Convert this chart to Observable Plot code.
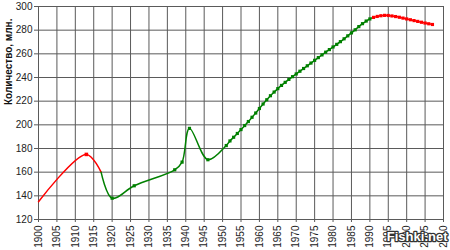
<!DOCTYPE html>
<html><head><meta charset="utf-8">
<script src="https://cdn.jsdelivr.net/npm/d3@7"></script>
<script src="https://cdn.jsdelivr.net/npm/@observablehq/plot@0.6"></script>
<style>body{margin:0;background:#fff;}</style>
</head><body><div id="chart"></div>
<script>
// Early period (red)
const redEarlyYears = [1900, 1913, 1917];
const redEarlyValues = [135, 175, 160];
// Soviet period (green)
const greenYears = [1917, 1920, 1926, 1937, 1939, 1941, 1946,
  1951, 1952, 1953, 1954, 1955, 1956, 1957, 1958, 1959, 1960,
  1961, 1962, 1963, 1964, 1965, 1966, 1967, 1968, 1969, 1970,
  1971, 1972, 1973, 1974, 1975, 1976, 1977, 1978, 1979, 1980,
  1981, 1982, 1983, 1984, 1985, 1986, 1987, 1988, 1989, 1990, 1991];
const greenValues = [160, 138, 148.5, 162, 168.5, 197, 170.5,
  182.5, 186.4, 189.5, 192.7, 196.0, 199.4, 202.8, 206.4, 210.0, 213.8,
  217.6, 221.2, 224.6, 227.7, 230.6, 233.3, 235.9, 238.4, 240.7, 243.0,
  245.3, 247.6, 249.9, 252.2, 254.5, 256.8, 259.1, 261.4, 263.6, 265.8,
  268.0, 270.3, 272.7, 275.2, 277.7, 280.3, 283.0, 285.5, 287.7, 289.5, 290.8];
// Post-Soviet period (red)
const redLateYears = [1991, 1992, 1993, 1994, 1995, 1996, 1997, 1998, 1999,
  2000, 2001, 2002, 2003, 2004, 2005, 2006, 2007];
const redLateValues = [290.8, 291.6, 292.2, 292.5, 292.4, 292.0, 291.5, 290.9, 290.2,
  289.5, 288.8, 288.1, 287.4, 286.7, 286.0, 285.4, 284.8];
// Years drawn without a marker
const noMarkerYears = [1900, 1917];
const greenNoMarker = [1917, 1991];

const xTicks = [1900,1905,1910,1915,1920,1925,1930,1935,1940,1945,1950,1955,
  1960,1965,1970,1975,1980,1985,1990,1995,2000,2005,2010];
const yTicks = [120,140,160,180,200,220,240,260,280,300];
const yLabel = "Количество, млн.";
const watermark = "Fishki.net";

const rows = (ys, vs) => ys.map((y, i) => ({year: y, value: vs[i]}));
const redEarly = rows(redEarlyYears, redEarlyValues);
const green = rows(greenYears, greenValues);
const redLate = rows(redLateYears, redLateValues);

const RED = "#ff0000", GREEN = "#008000", GRID = "#5a5a5a";

const chart = Plot.plot({
  width: 450, height: 250,
  marginLeft: 38, marginRight: 7, marginTop: 6, marginBottom: 31,
  style: {fontFamily: "'Liberation Sans', Arial, sans-serif", fontSize: "10px", color: "#222", background: "#fff"},
  x: {domain: [1900, 2010]},
  y: {domain: [120, 300]},
  marks: [
    Plot.gridX(xTicks, {stroke: GRID, strokeOpacity: 1}),
    Plot.gridY(yTicks, {stroke: GRID, strokeOpacity: 1}),
    Plot.frame({stroke: GRID}),
    Plot.axisX({ticks: xTicks, tickFormat: d => String(d), tickRotate: -90, tickSize: 3, tickPadding: 3, label: null, stroke: GRID}),
    Plot.axisY({ticks: yTicks, tickSize: 4, tickPadding: 2, label: null, stroke: GRID}),
    Plot.text([yLabel], {frameAnchor: "left", rotate: -90, dx: -30, dy: -8, fontWeight: "bold", fontSize: 10, fill: "#111"}),
    Plot.line(redEarly, {x: "year", y: "value", stroke: RED, strokeWidth: 1.5, curve: "catmull-rom"}),
    Plot.line(green, {x: "year", y: "value", stroke: GREEN, strokeWidth: 1.5, curve: "catmull-rom"}),
    Plot.line(redLate, {x: "year", y: "value", stroke: RED, strokeWidth: 1.5, curve: "catmull-rom"}),
    Plot.dot(redEarly.filter(d => !noMarkerYears.includes(d.year)), {x: "year", y: "value", fill: RED, r: 2, symbol: "square"}),
    Plot.dot(green.filter(d => !greenNoMarker.includes(d.year)), {x: "year", y: "value", fill: GREEN, r: 1.8, symbol: "square"}),
    Plot.dot(redLate, {x: "year", y: "value", fill: RED, r: 1.8, symbol: "square"}),
    Plot.text([watermark], {frameAnchor: "bottom-right", dx: 4, dy: 21, fontWeight: "bold", fontSize: 13, fill: "#fff", stroke: "#333", strokeWidth: 2.5, paintOrder: "stroke", textAnchor: "end"})
  ]
});
document.getElementById("chart").append(chart);
</script>
</body></html>
